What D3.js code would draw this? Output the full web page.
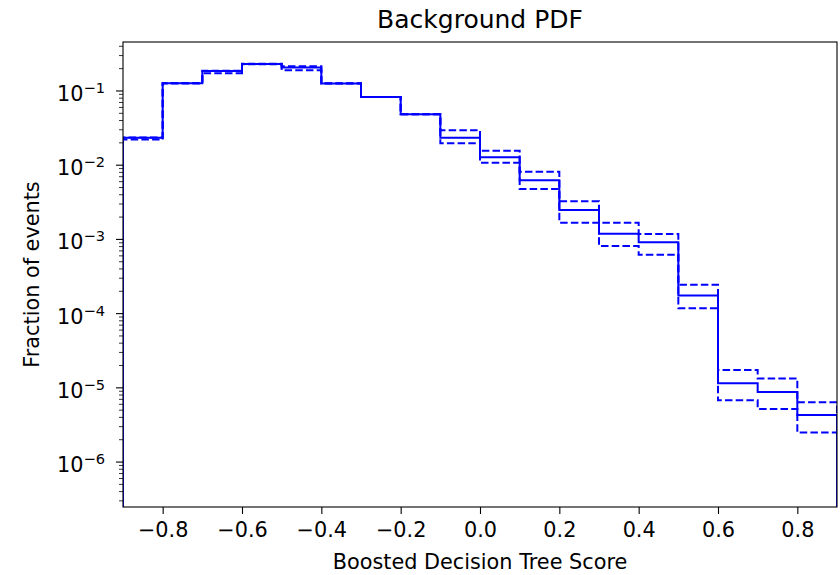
<!DOCTYPE html>
<html>
<head>
<meta charset="utf-8">
<script src="https://d3js.org/d3.v7.min.js"></script>
<style>
  body { margin: 0; background: #fff; }
  text { font-family: "DejaVu Sans", sans-serif; fill: #000; }
</style>
</head>
<body>
<svg width="840" height="575"></svg>
<script>
// bin edges of the BDT score histogram
var binEdges = [-0.9, -0.8, -0.7, -0.6, -0.5, -0.4, -0.3, -0.2, -0.1, 0.0,
                0.1, 0.2, 0.3, 0.4, 0.5, 0.6, 0.7, 0.8, 0.9];

// background PDF, central value and the +/- band (dashed)
var central = [0.0235, 0.127, 0.186, 0.231, 0.207, 0.126, 0.083, 0.0485, 0.0235,
               0.0128, 0.00625, 0.00249, 0.00119, 0.000914, 0.000176, 1.15e-5, 8.8e-6, 4.3e-6];
var upper   = [0.0237, 0.128, 0.188, 0.232, 0.215, 0.127, 0.083, 0.0487, 0.0295,
               0.0157, 0.00816, 0.00326, 0.00168, 0.00118, 0.000245, 1.74e-5, 1.34e-5, 6.4e-6];
var lower   = [0.0222, 0.126, 0.173, 0.230, 0.190, 0.126, 0.083, 0.0484, 0.0197,
               0.0108, 0.00478, 0.00168, 0.000815, 0.000622, 0.000118, 6.8e-6, 5.2e-6, 2.5e-6];

var xTicks = [-0.8, -0.6, -0.4, -0.2, 0.0, 0.2, 0.4, 0.6, 0.8];
var yDecades = [-6, -5, -4, -3, -2, -1];

var svg = d3.select("svg"),
    margin = {top: 42, right: 3, bottom: 68, left: 123},
    width = +svg.attr("width") - margin.left - margin.right,
    height = +svg.attr("height") - margin.top - margin.bottom;

var x = d3.scaleLinear().domain([-0.9, 0.9]).range([0, width]);
var y = d3.scaleLog().domain([2.48e-7, 0.457]).range([height, 0]);

var g = svg.append("g").attr("transform", "translate(" + margin.left + "," + margin.top + ")");

svg.append("defs").append("clipPath").attr("id", "clip")
  .append("rect").attr("width", width).attr("height", height);

function stepLine(vals) {
  var yMin = y.domain()[0] / 10;
  var pts = [[binEdges[0], yMin]];
  vals.forEach(function(v, i) { pts.push([binEdges[i], v]); });
  pts.push([binEdges[binEdges.length - 1], vals[vals.length - 1]]);
  pts.push([binEdges[binEdges.length - 1], yMin]);
  return d3.line()
    .x(function(d) { return x(d[0]); })
    .y(function(d) { return y(d[1]); })
    .curve(d3.curveStepAfter)(pts);
}

var plot = g.append("g").attr("clip-path", "url(#clip)");

[upper, lower].forEach(function(s) {
  plot.append("path")
    .attr("d", stepLine(s))
    .attr("fill", "none")
    .attr("stroke", "#0000ff")
    .attr("stroke-width", 2)
    .attr("stroke-dasharray", "7.5,3.2");
});
plot.append("path")
  .attr("d", stepLine(central))
  .attr("fill", "none")
  .attr("stroke", "#0000ff")
  .attr("stroke-width", 2);

// x axis
var xAxis = d3.axisBottom(x).tickValues(xTicks).tickSize(7).tickPadding(0)
  .tickFormat(function(d) { return d3.format(".1f")(d).replace("-", "\u2212"); });
var gx = g.append("g").attr("transform", "translate(0," + height + ")").call(xAxis);
gx.select(".domain").remove();
gx.selectAll("line").attr("stroke", "#000").attr("stroke-width", 1.1);
gx.selectAll("text").style("font-size", "20.8px").attr("y", 30).attr("dy", null);

// y axis, major + minor
var majors = yDecades.map(function(p) { return Math.pow(10, p); });
var minors = [];
[-7, -6, -5, -4, -3, -2, -1].forEach(function(p) {
  [2, 3, 4, 5, 6, 7, 8, 9].forEach(function(m) {
    var v = m * Math.pow(10, p);
    if (v >= y.domain()[0] && v <= y.domain()[1]) minors.push(v);
  });
});
var gy = g.append("g");
gy.selectAll("line.minor").data(minors).enter().append("line")
  .attr("class", "minor")
  .attr("x1", -4).attr("x2", 0)
  .attr("y1", function(d) { return y(d); }).attr("y2", function(d) { return y(d); })
  .attr("stroke", "#000").attr("stroke-width", 0.8);
gy.selectAll("line.major").data(majors).enter().append("line")
  .attr("class", "major")
  .attr("x1", -7).attr("x2", 0)
  .attr("y1", function(d) { return y(d); }).attr("y2", function(d) { return y(d); })
  .attr("stroke", "#000").attr("stroke-width", 1.1);
var ylab = gy.selectAll("text.tick").data(yDecades).enter().append("text")
  .attr("class", "tick")
  .attr("x", -18)
  .attr("y", function(d) { return y(Math.pow(10, d)) + 10; })
  .attr("text-anchor", "end")
  .style("font-size", "20.8px");
ylab.append("tspan").text("10");
ylab.append("tspan").attr("dy", -8).style("font-size", "14.6px")
  .text(function(d) { return "\u2212" + Math.abs(d); });

// frame
g.append("rect").attr("width", width).attr("height", height)
  .attr("fill", "none").attr("stroke", "#000").attr("stroke-width", 1.1);

// labels
svg.append("text").attr("x", margin.left + width / 2).attr("y", 28)
  .attr("text-anchor", "middle").style("font-size", "25px").text("Background PDF");
svg.append("text").attr("x", margin.left + width / 2).attr("y", 569)
  .attr("text-anchor", "middle").style("font-size", "20.8px").text("Boosted Decision Tree Score");
svg.append("text")
  .attr("transform", "translate(39," + (margin.top + height / 2) + ") rotate(-90)")
  .attr("text-anchor", "middle").style("font-size", "20.8px").text("Fraction of events");
</script>
</body>
</html>
